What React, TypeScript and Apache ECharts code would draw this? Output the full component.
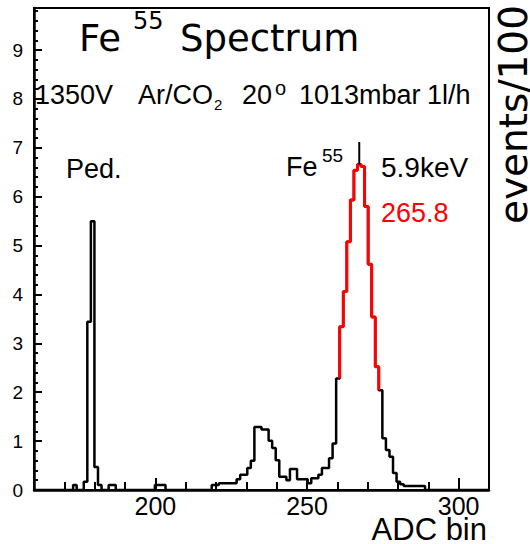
import React, { useEffect, useRef } from "react";
import * as echarts from "echarts";

// Histogram: ADC range and bin contents (events/100)
const histMin = 160;
const histMax = 310;
const counts = [
  0, 0, 0, 0, 0, 0, 0, 0, 0, 0,
  0, 0.1, 0, 0, 0.17, 3.44, 5.5, 0.47, 0.1, 0,
  0, 0.1, 0.1, 0, 0, 0, 0, 0, 0, 0,
  0, 0, 0, 0, 0.1, 0.1, 0.1, 0, 0, 0,
  0, 0, 0, 0, 0, 0, 0, 0, 0, 0,
  0.1, 0.1, 0.14, 0.14, 0.14, 0.14, 0.14, 0.22, 0.31, 0.31,
  0.45, 0.6, 1.29, 1.29, 1.24, 1.24, 1.01, 0.86, 0.61, 0.27,
  0.27, 0.2, 0.43, 0.43, 0.22, 0.22, 0.22, 0.14, 0.24, 0.24,
  0.31, 0.45, 0.45, 0.65, 0.95, 2.28, 3.34, 4.06, 5.08, 5.93,
  6.54, 6.66, 6.62, 5.8, 4.62, 3.54, 2.52, 2.04, 1.06, 0.82,
  0.68, 0.35, 0.17, 0.12, 0.08, 0.08, 0.08, 0.08, 0.08, 0.08,
  0, 0, 0, 0, 0, 0, 0, 0, 0, 0,
  0, 0, 0, 0, 0, 0, 0, 0,
];
// Fit range (bin indices) drawn in red
const fitFirstBin = 86;
const fitLastBin = 96;
// Upper error mark on the peak bin
const peakBin = 91;
const peakErrorHigh = 7.12;

// Axis settings
const yMax = 9.86;
const xLabelStep = 50;

const binWidth = (histMax - histMin) / counts.length;
const edge = (k: number) => histMin + k * binWidth;

export default function App() {
  const ref = useRef<HTMLDivElement>(null);

  useEffect(() => {
    if (!ref.current) return;
    const chart = echarts.init(ref.current, null, { renderer: "svg" });

    const histData: number[][] = counts.map((v, k) => [edge(k), v]);
    histData.push([edge(counts.length), counts[counts.length - 1]]);

    const fitData: number[][] = [[edge(fitFirstBin), counts[fitFirstBin - 1]]];
    for (let k = fitFirstBin; k <= fitLastBin; k++) fitData.push([edge(k), counts[k]]);
    fitData.push([edge(fitLastBin + 1), counts[fitLastBin + 1]]);

    const peakX = edge(peakBin) + binWidth / 2;
    const errData = [
      [peakX, counts[peakBin]],
      [peakX, peakErrorHigh],
    ];

    const sans = "Liberation Sans";
    const dejavu = "DejaVu Sans";
    const txt = (
      text: string,
      x: number,
      y: number,
      size: number,
      family = sans,
      extra: any = {}
    ) => ({
      type: "text",
      x,
      y,
      silent: true,
      z: 10,
      ...extra,
      style: {
        text,
        fontSize: size,
        fontFamily: family,
        fill: extra.fill || "#000",
        align: extra.align || "left",
        verticalAlign: "middle",
      },
    });

    const option: any = {
      animation: false,
      backgroundColor: "#fff",
      grid: {
        left: 34,
        right: 41,
        top: 8,
        bottom: 54,
        show: true,
        borderColor: "#000",
        borderWidth: 2,
        backgroundColor: "transparent",
      },
      xAxis: [
        {
          type: "value",
          min: histMin,
          max: histMax,
          interval: 10,
          axisLine: { show: true, onZero: false, lineStyle: { color: "#000", width: 2.5 } },
          axisTick: { show: true, inside: true, length: 8, lineStyle: { color: "#000", width: 2 } },
          axisLabel: { show: false },
          splitLine: { show: false },
        },
        {
          type: "value",
          min: histMin,
          max: histMax,
          splitNumber: 3,
          position: "bottom",
          axisLine: { show: false },
          axisTick: { show: true, inside: true, length: 12, lineStyle: { color: "#000", width: 2 } },
          axisLabel: {
            show: true,
            margin: 3,
            fontSize: 25,
            fontFamily: sans,
            color: "#000",
            showMinLabel: false,
            showMaxLabel: false,
            formatter: (v: number) => (v % xLabelStep === 0 ? String(v) : ""),
          },
          splitLine: { show: false },
        },
      ],
      yAxis: [
        {
          type: "value",
          min: 0,
          max: yMax,
          interval: 1,
          axisLine: { show: true, onZero: false, lineStyle: { color: "#000", width: 2.5 } },
          axisTick: { show: true, inside: true, length: 8, lineStyle: { color: "#000", width: 2 } },
          axisLabel: {
            show: true,
            margin: 11,
            fontSize: 19,
            fontFamily: sans,
            color: "#000",
            showMaxLabel: false,
          },
          splitLine: { show: false },
        },
        {
          type: "value",
          min: 0,
          max: yMax,
          interval: 0.2,
          position: "left",
          axisLine: { show: false },
          axisTick: { show: true, inside: true, length: 4, lineStyle: { color: "#000", width: 2 } },
          axisLabel: { show: false },
          splitLine: { show: false },
        },
      ],
      series: [
        {
          type: "line",
          step: "end",
          data: histData,
          xAxisIndex: 0,
          yAxisIndex: 0,
          showSymbol: false,
          symbol: "none",
          lineStyle: { color: "#000", width: 2.5 },
          z: 2,
        },
        {
          type: "line",
          step: "end",
          data: fitData,
          xAxisIndex: 0,
          yAxisIndex: 0,
          showSymbol: false,
          symbol: "none",
          lineStyle: { color: "#ff0000", width: 3 },
          z: 3,
        },
        {
          type: "line",
          data: errData,
          xAxisIndex: 0,
          yAxisIndex: 0,
          showSymbol: false,
          symbol: "none",
          lineStyle: { color: "#000", width: 2 },
          z: 4,
        },
      ],
      graphic: [
        txt("Fe", 79, 38.5, 37, dejavu),
        txt("55", 133, 21, 24, dejavu),
        txt("Spectrum", 180, 38.5, 37, dejavu),
        txt("1350V", 35, 95, 27),
        txt("Ar/CO", 138, 95, 27),
        txt("2", 214, 104, 15),
        txt("20", 242, 95, 27),
        txt("o", 275, 87.5, 20),
        txt("1013mbar", 299, 95, 27),
        txt("1l/h", 427, 95, 27),
        txt("Ped.", 66, 169, 27),
        txt("Fe", 286, 167, 27),
        txt("55", 322, 155, 19),
        txt("5.9keV", 381, 167.5, 28),
        txt("265.8", 381, 213, 27, sans, { fill: "#ff0000" }),
        txt("ADC bin", 487, 529, 31, sans, { align: "right" }),
        txt("events/100", 513, 5, 39, dejavu, { align: "right", rotation: Math.PI / 2 }),
      ],
    };

    chart.setOption(option);
    return () => chart.dispose();
  }, []);

  return (
    <div
      ref={ref}
      style={{ position: "absolute", left: 0, top: 0, width: 530, height: 544 }}
    />
  );
}
